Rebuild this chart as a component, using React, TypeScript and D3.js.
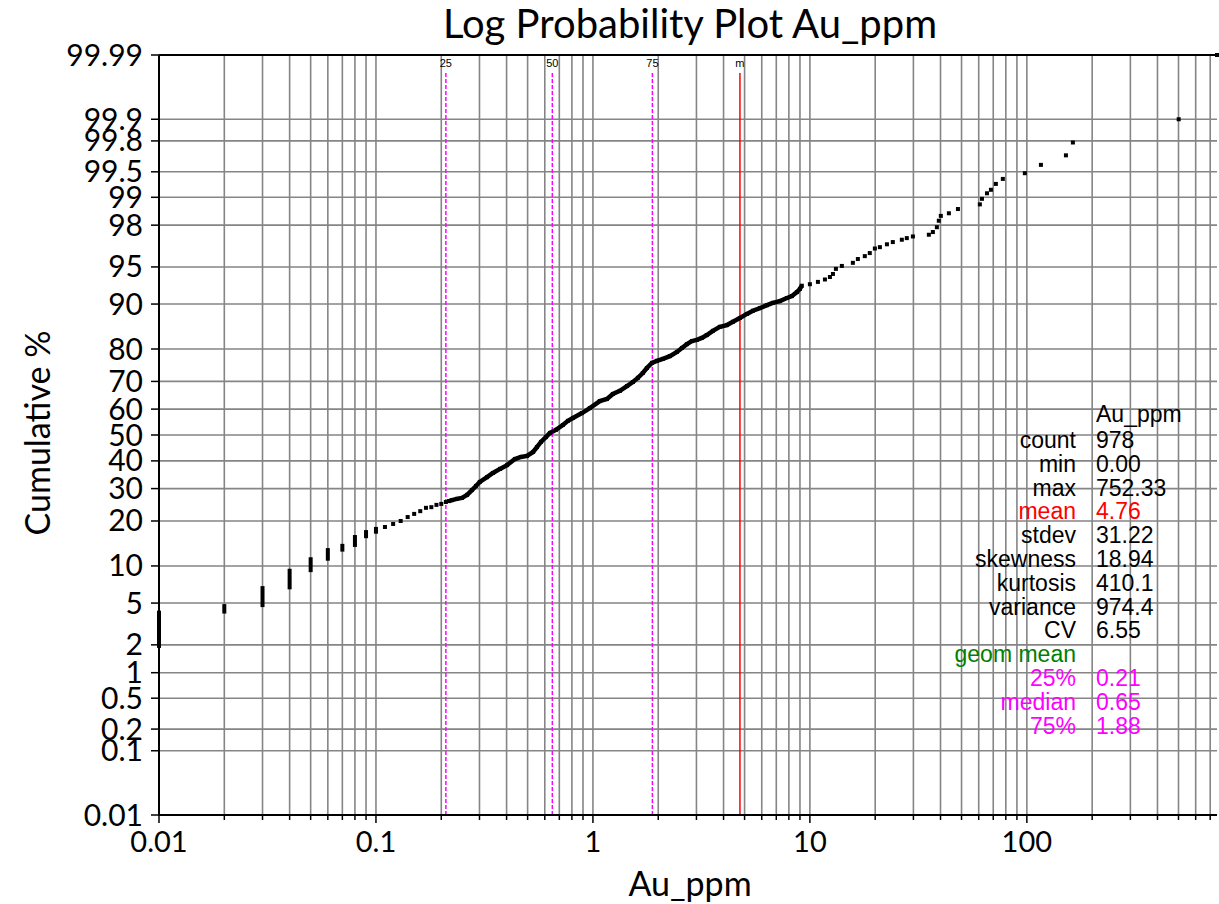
import React from "react";
import * as d3 from "d3";

// discrete low values: stacked samples drawn as vertical bars (cum % of first/last sample)
const stackValues = [0.01, 0.02, 0.03, 0.04, 0.05, 0.06, 0.07, 0.08, 0.09, 0.1];
const stackLowPct = [1.95, 4.2, 4.8, 6.8, 9.3, 11.3, 13.1, 14.1, 16.1, 17.2];
const stackHighPct = [4.1, 4.7, 6.7, 9.2, 11.2, 13.0, 13.9, 15.9, 17.1, 17.9];

// single samples
const sparseLowValues = [0.11, 0.12, 0.13, 0.14, 0.15, 0.16, 0.17, 0.18, 0.19, 0.2, 0.21];
const sparseLowPct = [18.4, 19.2, 20.0, 21.1, 22.0, 22.8, 23.8, 24.0, 24.7, 25.0, 25.6];

const denseValues = [
  0.217, 0.224, 0.236, 0.249, 0.263, 0.277, 0.289, 0.301, 0.325, 0.346, 0.373, 0.402,
  0.437, 0.466, 0.497, 0.53, 0.552, 0.576, 0.607, 0.634, 0.675, 0.727, 0.767, 0.809,
  0.89, 0.968, 1.076, 1.161, 1.236, 1.331, 1.435, 1.528, 1.611, 1.698, 1.773, 1.871,
  1.972, 2.102, 2.264, 2.439, 2.572, 2.711, 2.859, 3.013, 3.177, 3.35, 3.572, 3.846,
  4.146, 4.418, 4.757, 5.125, 5.462, 5.888, 6.341, 6.748, 7.272, 7.836, 8.263, 8.713,
  8.993, 9.18,
];
const densePct = [
  25.9, 26.2, 26.6, 26.9, 27.9, 29.5, 30.9, 32.3, 34.0, 35.5, 37.0, 38.4,
  40.7, 41.5, 41.9, 43.4, 45.3, 47.3, 49.2, 50.8, 52.0, 53.9, 55.5, 56.6,
  58.5, 60.4, 63.0, 63.8, 65.6, 66.7, 68.4, 69.8, 71.2, 72.8, 74.4, 76.0,
  76.6, 77.2, 78.0, 79.2, 80.3, 81.3, 82.1, 82.4, 82.9, 83.6, 84.6, 85.5,
  85.9, 86.6, 87.4, 88.2, 88.8, 89.3, 89.8, 90.2, 90.5, 91.0, 91.3, 91.9,
  92.35, 92.8,
];

const sparseHighValues = [
  10.0, 10.89, 11.73, 12.37, 12.77, 13.18, 14.04, 15.78, 16.64, 17.91, 18.88, 19.93,
  21.02, 22.65, 24.11, 26.53, 27.97, 29.84, 35.34, 36.89, 38.48, 39.28, 40.13, 43.72,
  48.12, 60.73, 62.1, 65.5, 68.3, 71.96, 77.5, 97.9, 116.1, 151.4, 163.0, 501, 752.33,
];
const sparseHighPct = [
  93.0, 93.3, 93.6, 93.9, 94.25, 94.8, 95.1, 95.4, 95.75, 96.0, 96.25, 96.6,
  96.7, 96.9, 97.05, 97.2, 97.3, 97.4, 97.5, 97.65, 97.9, 98.2, 98.4, 98.5,
  98.65, 98.8, 98.96, 99.1, 99.18, 99.3, 99.39, 99.48, 99.59, 99.69, 99.79, 99.9, 99.99,
];

const yTickPct = [0.01, 0.1, 0.2, 0.5, 1, 2, 5, 10, 20, 30, 40, 50, 60, 70, 80, 90, 95, 98, 99, 99.5, 99.8, 99.9, 99.99];
const yTickLabels = ["0.01", "0.1", "0.2", "0.5", "1", "2", "5", "10", "20", "30", "40", "50", "60", "70", "80", "90", "95", "98", "99", "99.5", "99.8", "99.9", "99.99"];
const xTickValues = [0.01, 0.1, 1, 10, 100];
const xTickLabels = ["0.01", "0.1", "1", "10", "100"];

const markerLabels = ["25", "50", "75", "m"];
const markerValues = [0.21, 0.65, 1.88, 4.76];
const markerColors = ["#ff00ff", "#ff00ff", "#ff00ff", "#ff0000"];

const statLabels = ["count", "min", "max", "mean", "stdev", "skewness", "kurtosis", "variance", "CV", "geom mean", "25%", "median", "75%"];
const statValues = ["978", "0.00", "752.33", "4.76", "31.22", "18.94", "410.1", "974.4", "6.55", "", "0.21", "0.65", "1.88"];
const statColors = ["#000", "#000", "#000", "#ff0000", "#000", "#000", "#000", "#000", "#000", "#008000", "#ff00ff", "#ff00ff", "#ff00ff"];

// inverse normal CDF (Acklam) for the probability axis
function probit(p: number) {
  const a = [-39.69683028665376, 220.9460984245205, -275.9285104469687, 138.357751867269, -30.66479806614716, 2.506628277459239];
  const b = [-54.47609879822406, 161.5858368580409, -155.6989798598866, 66.80131188771972, -13.28068155288572];
  const c = [-0.007784894002430293, -0.3223964580411365, -2.400758277161838, -2.549732539343734, 4.374664141464968, 2.938163982698783];
  const d = [0.007784695709041462, 0.3224671290700398, 2.445134137142996, 3.754408661907416];
  const pl = 0.02425;
  if (p < pl) {
    const q = Math.sqrt(-2 * Math.log(p));
    return (((((c[0] * q + c[1]) * q + c[2]) * q + c[3]) * q + c[4]) * q + c[5]) / ((((d[0] * q + d[1]) * q + d[2]) * q + d[3]) * q + 1);
  }
  if (p <= 1 - pl) {
    const q = p - 0.5;
    const r = q * q;
    return ((((((a[0] * r + a[1]) * r + a[2]) * r + a[3]) * r + a[4]) * r + a[5]) * q) / (((((b[0] * r + b[1]) * r + b[2]) * r + b[3]) * r + b[4]) * r + 1);
  }
  const q = Math.sqrt(-2 * Math.log(1 - p));
  return -(((((c[0] * q + c[1]) * q + c[2]) * q + c[3]) * q + c[4]) * q + c[5]) / ((((d[0] * q + d[1]) * q + d[2]) * q + d[3]) * q + 1);
}

const W = 1219;
const H = 904;
const left = 159;
const right = 1217;
const top = 55;
const bottom = 815;

const x = d3.scaleLog().domain([0.01, 752.33]).range([left, right]);
const yz = d3.scaleLinear().domain([probit(0.0001), probit(0.9999)]).range([bottom, top]);
const y = (pct: number) => yz(probit(pct / 100));

const GRID = "#858585";
const LABEL_FONT = "Lato, 'Open Sans', sans-serif";
const STAT_FONT = "'Liberation Sans', Arial, sans-serif";

export default function App() {
  const gridX = x.ticks().filter((v) => v >= 0.01 && v <= 752.33);
  const denseLine = d3
    .line<number>()
    .x((v) => x(v))
    .y((_, i) => y(densePct[i]));

  const allPoints: [number, number][] = [
    ...sparseLowValues.map((v, i) => [v, sparseLowPct[i]] as [number, number]),
    ...denseValues.map((v, i) => [v, densePct[i]] as [number, number]),
    ...sparseHighValues.map((v, i) => [v, sparseHighPct[i]] as [number, number]),
  ];

  return (
    <div style={{ position: "absolute", left: 0, top: 0 }}>
      <svg width={W} height={H} style={{ display: "block", background: "#fff" }}>
        {/* title */}
        <text x={690} y={38} textAnchor="middle" fontFamily={LABEL_FONT} fontSize={40}>
          Log Probability Plot Au_ppm
        </text>

        {/* grid */}
        {gridX.map((v) => (
          <line key={"gx" + v} x1={x(v)} x2={x(v)} y1={top} y2={bottom} stroke={GRID} strokeWidth={1.6} />
        ))}
        {yTickPct.map((p) => (
          <line key={"gy" + p} x1={left} x2={right} y1={y(p)} y2={y(p)} stroke={GRID} strokeWidth={1.6} />
        ))}

        {/* percentile / mean markers */}
        {markerValues.map((v, i) => (
          <g key={"m" + i}>
            <line
              x1={x(v)}
              x2={x(v)}
              y1={73}
              y2={bottom}
              stroke={markerColors[i]}
              strokeWidth={1.5}
              strokeDasharray={i < 3 ? "4,2" : undefined}
            />
            <text x={x(v)} y={67} textAnchor="middle" fontFamily={STAT_FONT} fontSize={11}>
              {markerLabels[i]}
            </text>
          </g>
        ))}

        {/* axes */}
        <line x1={left} x2={right} y1={top} y2={top} stroke="#000" strokeWidth={2} />
        <line x1={left} x2={right} y1={bottom} y2={bottom} stroke="#000" strokeWidth={2} />
        <line x1={left} x2={left} y1={top} y2={bottom + 1} stroke="#000" strokeWidth={2} />
        {yTickPct.map((p, i) => (
          <g key={"yt" + p}>
            <line x1={left - 8} x2={left} y1={y(p)} y2={y(p)} stroke="#000" strokeWidth={1.5} />
            <text x={143} y={y(p)} dy="0.35em" textAnchor="end" fontFamily={LABEL_FONT} fontSize={30}>
              {yTickLabels[i]}
            </text>
          </g>
        ))}
        {gridX.map((v) => (
          <line
            key={"xt" + v}
            x1={x(v)}
            x2={x(v)}
            y1={bottom}
            y2={bottom + (xTickValues.includes(+v.toPrecision(3)) ? 8 : 5)}
            stroke="#000"
            strokeWidth={1.5}
          />
        ))}
        {xTickValues.map((v, i) => (
          <text key={"xl" + v} x={x(v)} y={852} textAnchor="middle" fontFamily={LABEL_FONT} fontSize={29}>
            {xTickLabels[i]}
          </text>
        ))}
        <text x={690} y={896} textAnchor="middle" fontFamily={LABEL_FONT} fontSize={34}>
          Au_ppm
        </text>
        <text
          transform={`translate(50,${433}) rotate(-90)`}
          textAnchor="middle"
          fontFamily={LABEL_FONT}
          fontSize={34}
        >
          Cumulative %
        </text>

        {/* data */}
        {stackValues.map((v, i) => (
          <rect
            key={"s" + v}
            x={x(v) - 2}
            y={y(stackHighPct[i]) - 2}
            width={4}
            height={y(stackLowPct[i]) - y(stackHighPct[i]) + 4}
            fill="#000"
          />
        ))}
        <path d={denseLine(denseValues) || ""} fill="none" stroke="#000" strokeWidth={4.5} />
        {allPoints.map(([v, p], i) => (
          <rect key={"p" + i} x={x(v) - 2} y={y(p) - 2} width={4} height={4} fill="#000" />
        ))}

        {/* statistics */}
        <text x={1096} y={422} fontFamily={STAT_FONT} fontSize={23}>
          Au_ppm
        </text>
        {statLabels.map((s, i) => (
          <g key={"st" + i} fill={statColors[i]} fontFamily={STAT_FONT} fontSize={23}>
            <text x={1076} y={448 + i * 23.8} textAnchor="end">
              {s}
            </text>
            <text x={1096} y={448 + i * 23.8}>
              {statValues[i]}
            </text>
          </g>
        ))}
      </svg>
    </div>
  );
}
